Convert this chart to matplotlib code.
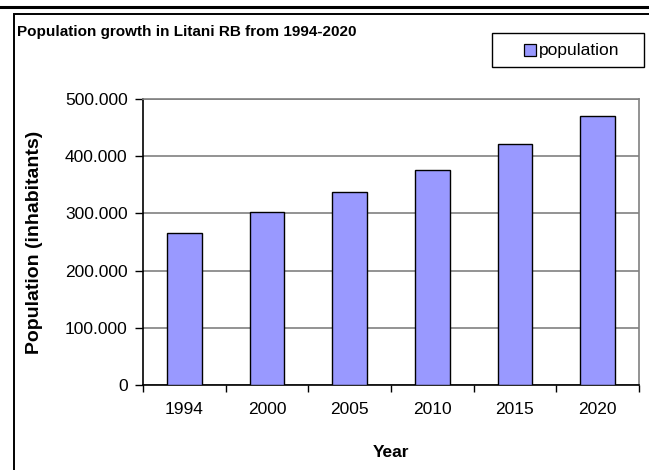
import matplotlib.pyplot as plt
from matplotlib.patches import Rectangle
from matplotlib.lines import Line2D
from matplotlib.ticker import FuncFormatter

plt.rcParams['font.family'] = ['Liberation Sans', 'DejaVu Sans']

years = ["1994", "2000", "2005", "2010", "2015", "2020"]
population = [266000, 302000, 337000, 376000, 421000, 470000]
bar_color = "#9999ff"

W, H = 649, 470
fig = plt.figure(figsize=(W / 100, H / 100), dpi=100)

def fx(px):
    return px / W

def fy(py):
    return 1 - py / H

# page rule and chart frame
fig.add_artist(Line2D([0, 1], [fy(7), fy(7)], color="black", lw=2.2,
                      transform=fig.transFigure))
fig.add_artist(Rectangle((fx(13.5), -0.05), 1.0, fy(14.5) + 0.05, fill=False,
                         edgecolor="black", lw=1.4, transform=fig.transFigure))

ax = fig.add_axes([fx(143), fy(385), fx(496), 286 / H])
x = range(len(years))
ax.bar(x, population, width=0.42, color=bar_color, edgecolor="black",
       linewidth=1.0, label="population", zorder=3)

ax.set_xlim(-0.5, 5.5)
ax.set_ylim(0, 500000)
ax.set_yticks(range(0, 500001, 100000))
ax.yaxis.set_major_formatter(FuncFormatter(
    lambda v, p: "0" if v == 0 else f"{int(v):,}".replace(",", ".")))
ax.grid(axis="y", color="#808080", lw=1.2, zorder=0)

ax.set_xticks([i - 0.5 for i in range(len(years) + 1)])
ax.set_xticklabels([])
ax.set_xticks(list(x), minor=True)
ax.set_xticklabels(years, minor=True)
ax.tick_params(axis="x", which="minor", length=0, pad=12.5, labelsize=12.5)
ax.tick_params(axis="x", which="major", length=5, width=1, direction="out")
ax.tick_params(axis="y", length=6, width=1, direction="out", labelsize=12.5, pad=5)

for s in ["top", "right"]:
    ax.spines[s].set_color("#808080")
    ax.spines[s].set_linewidth(1.2)
for s in ["left", "bottom"]:
    ax.spines[s].set_color("black")
    ax.spines[s].set_linewidth(1.2)

ax.set_xlabel("Year", fontweight="bold", fontsize=12.5)
ax.xaxis.set_label_coords(0.5, (385 - 445) / 286)
ax.set_ylabel("Population (inhabitants)", fontweight="bold", fontsize=14)
ax.yaxis.set_label_coords((43 - 143) / 496, 0.5)

fig.text(fx(17), fy(32), "Population growth in Litani RB from 1994-2020",
         fontweight="bold", fontsize=11, va="center", ha="left")

# legend box
fig.add_artist(Rectangle((fx(492), fy(67)), fx(152), 34 / H, facecolor="white",
                         edgecolor="black", lw=1.0, transform=fig.transFigure))
fig.add_artist(Rectangle((fx(524), fy(56)), fx(12), 12 / H, facecolor=bar_color,
                         edgecolor="black", lw=0.9, transform=fig.transFigure))
fig.text(fx(539), fy(50), "population", fontsize=12.5, va="center", ha="left")

fig.savefig("out.png", dpi=100)
